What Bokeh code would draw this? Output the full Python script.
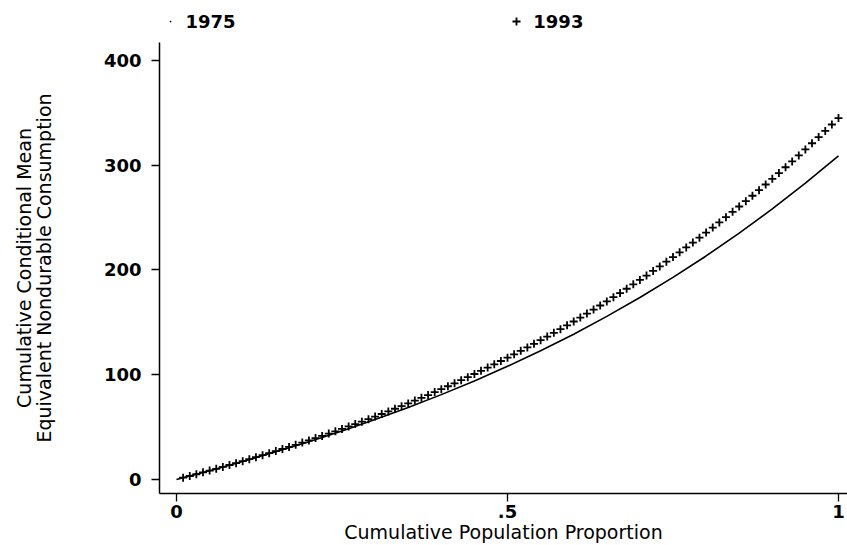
from bokeh.plotting import figure
from bokeh.models import Range1d, FixedTicker
from bokeh.layouts import column
from bokeh.embed import file_html
from bokeh.resources import INLINE

# 1993 series: cumulative conditional mean (markers)
x_1993 = [round(0.01 * i, 2) for i in range(1, 101)]
y_1993 = [1.7, 3.3, 5.0, 6.8, 8.5, 10.2, 12.0, 13.8, 15.6, 17.5,
          19.4, 21.3, 23.2, 25.1, 27.1, 29.1, 31.1, 33.1, 35.2, 37.3,
          39.5, 41.6, 43.8, 46.0, 48.3, 50.6, 52.9, 55.2, 57.6, 60.0,
          62.5, 65.0, 67.5, 70.0, 72.6, 75.3, 77.9, 80.6, 83.4, 86.2,
          89.0, 91.8, 94.8, 97.7, 100.7, 103.7, 106.8, 109.9, 113.1, 116.3,
          119.5, 122.8, 126.1, 129.5, 133.0, 136.4, 140.0, 143.5, 147.2, 150.8,
          154.6, 158.4, 162.2, 166.1, 170.0, 174.0, 178.0, 182.1, 186.3, 190.5,
          194.7, 199.1, 203.4, 207.9, 212.3, 216.9, 221.5, 226.2, 230.9, 235.7,
          240.5, 245.4, 250.4, 255.5, 260.6, 265.7, 270.9, 276.2, 281.6, 287.0,
          292.5, 298.1, 303.7, 309.4, 315.1, 321.0, 326.9, 332.8, 338.9, 345.0]

# 1975 series (line)
x_1975 = [0.0, 0.05, 0.10, 0.15, 0.20, 0.25, 0.30, 0.35, 0.40, 0.45, 0.50,
          0.55, 0.60, 0.65, 0.70, 0.75, 0.80, 0.85, 0.90, 0.95, 1.00]
y_1975 = [0.0, 8.4, 17.2, 26.4, 36.1, 46.3, 57.2, 68.7, 81.0, 94.1, 108.0,
          122.9, 138.7, 155.7, 173.7, 192.9, 213.4, 235.2, 258.3, 282.9, 309.0]

x_ticks = [0, 0.5, 1]
x_tick_labels = {0: "0", 0.5: ".5", 1: "1"}
y_ticks = [0, 100, 200, 300, 400]
series_names = ["1975", "1993"]

font = "DejaVu Sans"
xr = Range1d(-0.0257, 1.0136)

# ---- legend strip on top ----
leg = figure(width=847, height=42, output_backend="svg", toolbar_location=None,
             x_range=xr, y_range=Range1d(0, 42),
             min_border_left=159, min_border_right=0, min_border_top=0, min_border_bottom=0)
leg.axis.visible = False
leg.grid.visible = False
leg.outline_line_color = None
leg.scatter([-0.009], [21], marker="dot", size=7, color="black")
leg.scatter([0.5136], [21], marker="cross", size=8, line_color="black", line_width=1.8)
leg.text(x=[0.0136, 0.539], y=[21, 21], text=series_names,
         text_align="left", text_baseline="middle",
         text_font={"value": font}, text_font_style="bold", text_font_size="18px",
         text_color="black")

# ---- main plot ----
p = figure(width=847, height=503, output_backend="svg", toolbar_location=None,
           x_range=xr, y_range=Range1d(-13.4, 417.2),
           min_border_left=159, min_border_right=0, min_border_top=0, min_border_bottom=51)
p.outline_line_color = None
p.grid.visible = False
p.background_fill_color = "white"

p.line(x_1975, y_1975, line_color="black", line_width=1.6)
p.scatter(x_1993, y_1993, marker="cross", size=8, line_color="black", line_width=1.8)

for ax in (p.xaxis[0], p.yaxis[0]):
    ax.axis_line_color = "black"
    ax.axis_line_width = 1.5
    ax.major_tick_line_color = "black"
    ax.major_tick_line_width = 1.3
    ax.major_tick_out = 8
    ax.major_tick_in = 0
    ax.minor_tick_line_color = None
    ax.major_label_text_font = font
    ax.major_label_text_font_style = "bold"
    ax.major_label_text_font_size = "18px"
    ax.major_label_text_color = "black"
    ax.axis_label_text_font = font
    ax.axis_label_text_font_style = "normal"
    ax.axis_label_text_color = "black"

p.xaxis.ticker = FixedTicker(ticks=x_ticks)
p.xaxis.major_label_overrides = x_tick_labels
p.xaxis.major_label_standoff = 3
p.xaxis.axis_label = "Cumulative Population Proportion"
p.xaxis.axis_label_text_font_size = "19px"
p.xaxis.axis_label_standoff = 0

p.yaxis.ticker = FixedTicker(ticks=y_ticks)
p.yaxis.major_label_standoff = 10
p.yaxis.axis_label = "Cumulative Conditional Mean\nEquivalent Nondurable Consumption"
p.yaxis.axis_label_text_font_size = "19px"
p.yaxis.axis_label_text_line_height = 0.92
p.yaxis.axis_label_standoff = 46

layout = column(leg, p, spacing=0)
open("out.html", "w").write(file_html(layout, INLINE))
